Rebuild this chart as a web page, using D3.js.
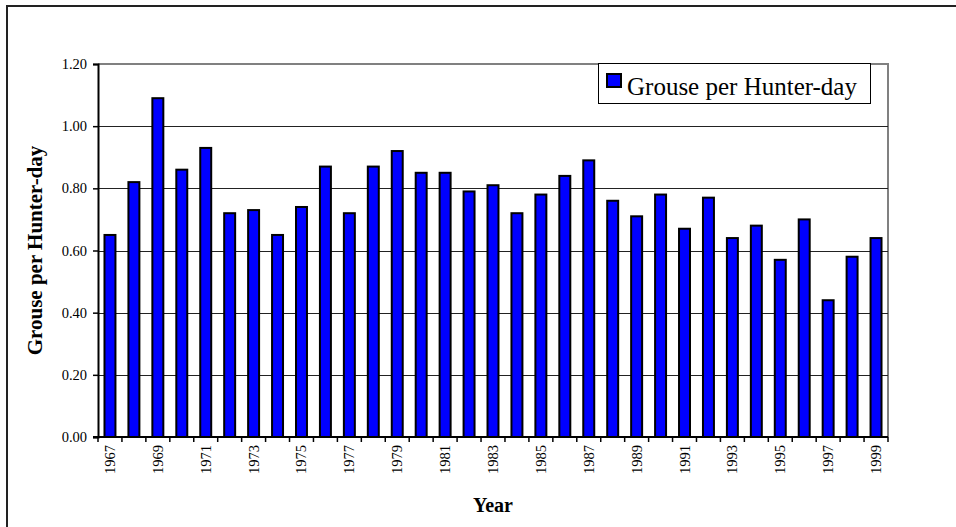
<!DOCTYPE html>
<html>
<head>
<meta charset="utf-8">
<script src="https://cdn.jsdelivr.net/npm/d3@7/dist/d3.min.js"></script>
<style>
  html, body { margin: 0; padding: 0; background: #fff; }
  svg { display: block; }
  text { font-family: "Liberation Serif", "Times New Roman", Times, serif; fill: #000; }
</style>
</head>
<body>
<svg id="chart" width="956" height="527"></svg>
<script>
// Grouse harvested per hunter-day, by season
const years = [1967, 1968, 1969, 1970, 1971, 1972, 1973, 1974, 1975, 1976, 1977,
               1978, 1979, 1980, 1981, 1982, 1983, 1984, 1985, 1986, 1987, 1988,
               1989, 1990, 1991, 1992, 1993, 1994, 1995, 1996, 1997, 1998, 1999];
const grousePerHunterDay = [0.65, 0.82, 1.09, 0.86, 0.93, 0.72, 0.73, 0.65, 0.74, 0.87, 0.72,
                            0.87, 0.92, 0.85, 0.85, 0.79, 0.81, 0.72, 0.78, 0.84, 0.89, 0.76,
                            0.71, 0.78, 0.67, 0.77, 0.64, 0.68, 0.57, 0.70, 0.44, 0.58, 0.64];
const yTicks = [0, 0.2, 0.4, 0.6, 0.8, 1.0, 1.2];
const seriesName = "Grouse per Hunter-day";
const yTitle = "Grouse per Hunter-day";
const xTitle = "Year";

const serif = "'Liberation Serif', 'Times New Roman', Times, serif";
const svg = d3.select("#chart");
const plot = { left: 98, right: 888, top: 64, bottom: 437 };

// Outer chart frame (top and left edges sit inside the window)
svg.append("path")
  .attr("d", `M7,527 L7,6 L956,6`)
  .attr("fill", "none")
  .attr("stroke", "#222")
  .attr("stroke-width", 2);

const x = d3.scaleBand()
  .domain(years)
  .range([plot.left, plot.right])
  .paddingInner(0.5)
  .paddingOuter(0.25);

const y = d3.scaleLinear()
  .domain([0, 1.2])
  .range([plot.bottom, plot.top]);

// Plot area border (grey top and right)
svg.append("path")
  .attr("d", `M${plot.left},${plot.top} H${plot.right} V${plot.bottom}`)
  .attr("fill", "none")
  .attr("stroke", "#808080")
  .attr("stroke-width", 2);

// Horizontal gridlines
svg.append("g")
  .selectAll("line")
  .data(yTicks.filter(t => t > 0 && t < 1.2))
  .join("line")
  .attr("x1", plot.left)
  .attr("x2", plot.right)
  .attr("y1", d => Math.round(y(d)) + 0.5)
  .attr("y2", d => Math.round(y(d)) + 0.5)
  .attr("stroke", "#222")
  .attr("stroke-width", 1);

// Bars
svg.append("g")
  .selectAll("rect")
  .data(years.map((yr, i) => ({ year: yr, value: grousePerHunterDay[i] })))
  .join("rect")
  .attr("x", d => x(d.year) + 0.5)
  .attr("y", d => y(d.value))
  .attr("width", x.bandwidth() - 1)
  .attr("height", d => y(0) - y(d.value))
  .attr("fill", "#0000ff")
  .attr("stroke", "#000")
  .attr("stroke-width", 2);

// Y axis
const yAxis = d3.axisLeft(y)
  .tickValues(yTicks)
  .tickFormat(d3.format(".2f"))
  .tickSize(5)
  .tickPadding(6);

const gy = svg.append("g")
  .attr("transform", `translate(${plot.left},0)`)
  .attr("font-family", serif)
  .call(yAxis);
gy.attr("font-family", serif);
gy.select(".domain").attr("stroke", "#000").attr("stroke-width", 2);
gy.selectAll(".tick line").attr("stroke", "#000").attr("stroke-width", 1.5);
gy.selectAll(".tick text")
  .style("font-size", "14.5px")
  .style("font-family", serif);

// X axis: ticks sit on category boundaries, labels on every other year
const boundaries = d3.range(years.length + 1).map(i => plot.left + i * x.step());
const gx = svg.append("g");
gx.append("line")
  .attr("x1", plot.left - 5)
  .attr("x2", plot.right)
  .attr("y1", plot.bottom)
  .attr("y2", plot.bottom)
  .attr("stroke", "#000")
  .attr("stroke-width", 2);
gx.selectAll("line.tick")
  .data(boundaries)
  .join("line")
  .attr("class", "tick")
  .attr("x1", d => d)
  .attr("x2", d => d)
  .attr("y1", plot.bottom)
  .attr("y2", plot.bottom + 5)
  .attr("stroke", "#000")
  .attr("stroke-width", 1.5);
gx.selectAll("text")
  .data(years.filter((yr, i) => i % 2 === 0))
  .join("text")
  .attr("transform", d => `translate(${x(d) + x.bandwidth() / 2 + 5},${plot.bottom + 8}) rotate(-90)`)
  .attr("text-anchor", "end")
  .style("font-size", "14.5px")
  .style("font-family", serif)
  .text(d => d);

// Axis titles
svg.append("text")
  .attr("transform", `translate(42,${(plot.top + plot.bottom) / 2}) rotate(-90)`)
  .attr("text-anchor", "middle")
  .style("font-size", "21px")
  .style("font-weight", "bold")
  .text(yTitle);

svg.append("text")
  .attr("x", 493)
  .attr("y", 512)
  .attr("text-anchor", "middle")
  .style("font-size", "20px")
  .style("font-weight", "bold")
  .text(xTitle);

// Legend
const legend = svg.append("g");
legend.append("rect")
  .attr("x", 598.5)
  .attr("y", 63.5)
  .attr("width", 272)
  .attr("height", 40)
  .attr("fill", "#fff")
  .attr("stroke", "#000")
  .attr("stroke-width", 1);
legend.append("rect")
  .attr("x", 607)
  .attr("y", 74)
  .attr("width", 14)
  .attr("height", 13)
  .attr("fill", "#0000ff")
  .attr("stroke", "#000")
  .attr("stroke-width", 2);
legend.append("text")
  .attr("x", 627)
  .attr("y", 95)
  .style("font-size", "25px")
  .text(seriesName);
</script>
</body>
</html>
